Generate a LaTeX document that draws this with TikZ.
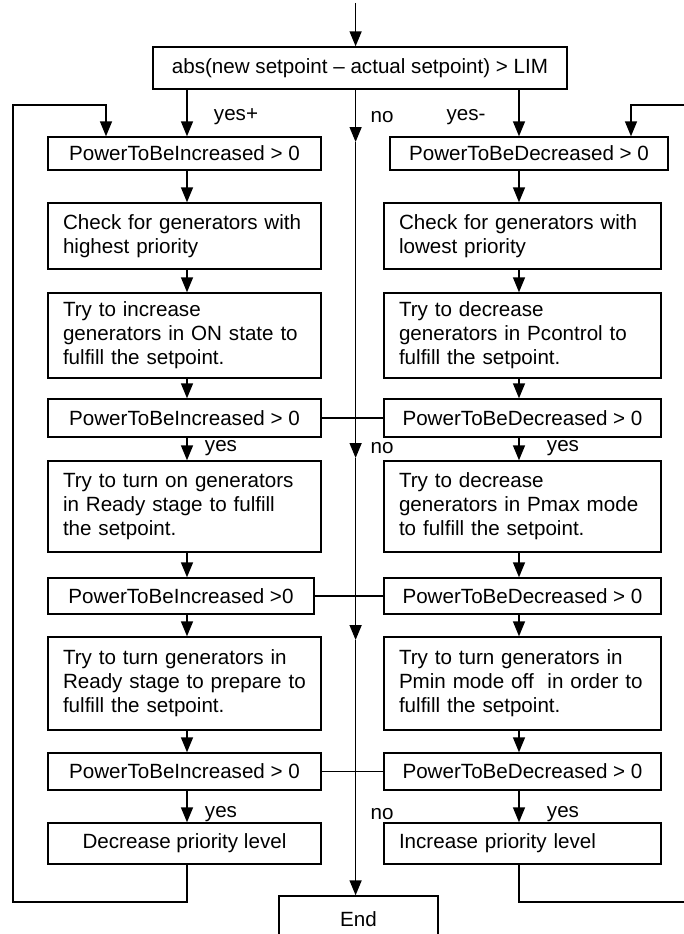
\documentclass[tikz,border=0pt]{standalone}
\usepackage{fontspec}
\setmainfont{Liberation Sans}
\usetikzlibrary{arrows.meta}
\begin{document}
\begin{tikzpicture}[x=1pt,y=-1pt,
  every node/.style={font=\fontsize{20.6}{24}\selectfont},
  boxc/.style={draw, line width=1.4pt, align=center, inner sep=0pt},
  boxl/.style={draw, line width=1.4pt, align=left, inner xsep=15pt, inner ysep=0pt},
  arr/.style={-{Triangle[length=15pt,width=12pt]}, line width=1.5pt},
  ln/.style={line width=1.5pt},
  lbl/.style={inner sep=0pt}]
\useasboundingbox (0,0) rectangle (684,934);
\clip (0,0) rectangle (684,934);

\coordinate (aL) at (187,0);
\coordinate (aR) at (519,0);
\coordinate (mx) at (355.6,0);

\node[boxc, minimum width=414pt, minimum height=42pt] (top) at (360,68) {abs(new setpoint -- actual setpoint) > LIM};

\node[boxc, minimum width=273pt, minimum height=33pt] (L1) at (184.5,153.5) {PowerToBeIncreased > 0};
\node[boxc, minimum width=278pt, minimum height=33pt] (R1) at (529,153.5) {PowerToBeDecreased > 0};

\node[boxl, text width=243pt, minimum height=66pt] (L2) at (184.5,236) {Check for generators with\\highest priority};
\node[boxl, text width=247pt, minimum height=66pt] (R2) at (522.5,236) {Check for generators with\\lowest priority};

\node[boxl, text width=243pt, minimum height=85pt] (L3) at (184.5,335.5) {Try to increase\\generators in ON state to\\fulfill the setpoint.};
\node[boxl, text width=247pt, minimum height=85pt] (R3) at (522.5,335.5) {Try to decrease\\generators in Pcontrol to\\fulfill the setpoint.};

\node[boxc, minimum width=273pt, minimum height=38pt] (L4) at (184.5,418) {PowerToBeIncreased > 0};
\node[boxc, minimum width=277pt, minimum height=38pt] (R4) at (522.5,418) {PowerToBeDecreased > 0};

\node[boxl, text width=243pt, minimum height=91pt] (L5) at (184.5,506.5) {Try to turn on generators\\in Ready stage to fulfill\\the setpoint.};
\node[boxl, text width=247pt, minimum height=91pt] (R5) at (522.5,506.5) {Try to decrease\\generators in Pmax mode\\to fulfill the setpoint.};

\node[boxc, minimum width=266pt, minimum height=36pt] (L6) at (181,596) {PowerToBeIncreased >0};
\node[boxc, minimum width=277pt, minimum height=36pt] (R6) at (522.5,596) {PowerToBeDecreased > 0};

\node[boxl, text width=243pt, minimum height=93pt] (L7) at (184.5,683.5) {Try to turn generators in\\Ready stage to prepare to\\fulfill the setpoint.};
\node[boxl, text width=247pt, minimum height=93pt] (R7) at (522.5,683.5) {Try to turn generators in\\Pmin mode off~~in order to\\fulfill the setpoint.};

\node[boxc, minimum width=273pt, minimum height=37pt] (L8) at (184.5,771.5) {PowerToBeIncreased > 0};
\node[boxc, minimum width=277pt, minimum height=37pt] (R8) at (522.5,771.5) {PowerToBeDecreased > 0};

\node[boxc, minimum width=273pt, minimum height=41pt] (L9) at (184.5,843.5) {Decrease priority level};
\node[boxl, text width=247pt, minimum height=41pt] (R9) at (522.5,843.5) {Increase priority level};

\node[boxc, minimum width=159pt, minimum height=46pt] (End) at (358.5,919) {End};

% entry
\coordinate (start) at (355.6,3);
\draw[arr] (start) -- (start |- top.north);

% main line
\coordinate (m1) at (355.6,142);
\coordinate (m2) at (355.6,458);
\coordinate (m3) at (355.6,640);
\draw[arr] (top.south -| mx) -- (m1);
\draw[arr] (m1) -- (m2);
\draw[arr] (m2) -- (m3);
\draw[arr] (m3) -- (End.north -| mx);

% branches
\draw[arr] (top.south -| aL) -- (L1.north -| aL);
\draw[arr] (top.south -| aR) -- (R1.north -| aR);

\foreach \a/\b in {L1/L2,L2/L3,L3/L4,L4/L5,L5/L6,L6/L7,L7/L8,L8/L9}
  \draw[arr] (\a.south -| aL) -- (\b.north -| aL);
\foreach \a/\b in {R1/R2,R2/R3,R3/R4,R4/R5,R5/R6,R6/R7,R7/R8,R8/R9}
  \draw[arr] (\a.south -| aR) -- (\b.north -| aR);

% cross connectors
\draw[ln] (L4.east) -- (R4.west);
\draw[ln] (L6.east) -- (R6.west);
\draw[ln] (L8.east) -- (R8.west);

% loops
\coordinate (lb) at (13,902);
\coordinate (lt) at (13,105);
\coordinate (la) at (106,105);
\draw[arr, line join=miter] (L9.south -| aL) |- (lb) -- (lt) -- (la) -- (la |- L1.north);
\coordinate (rb) at (684,902);
\coordinate (rt) at (684,105);
\coordinate (ra) at (631,105);
\draw[ln] (R9.south -| aR) |- (rb);
\draw[arr, line join=miter] (rt) -- (ra) -- (ra |- R1.north);

% labels
\node[lbl] (yp) at (236,117) {yes+};
\node[lbl] (n1) at (382,117) {no};
\node[lbl] (ym) at (466,117) {yes-};
\node[lbl] (y4L) at (221,448) {yes};
\node[lbl] (n4) at (382,448) {no};
\node[lbl] (y4R) at (563,448) {yes};
\node[lbl] (y8L) at (221,814) {yes};
\node[lbl] (n8) at (382,814) {no};
\node[lbl] (y8R) at (563,814) {yes};
\end{tikzpicture}
\end{document}
